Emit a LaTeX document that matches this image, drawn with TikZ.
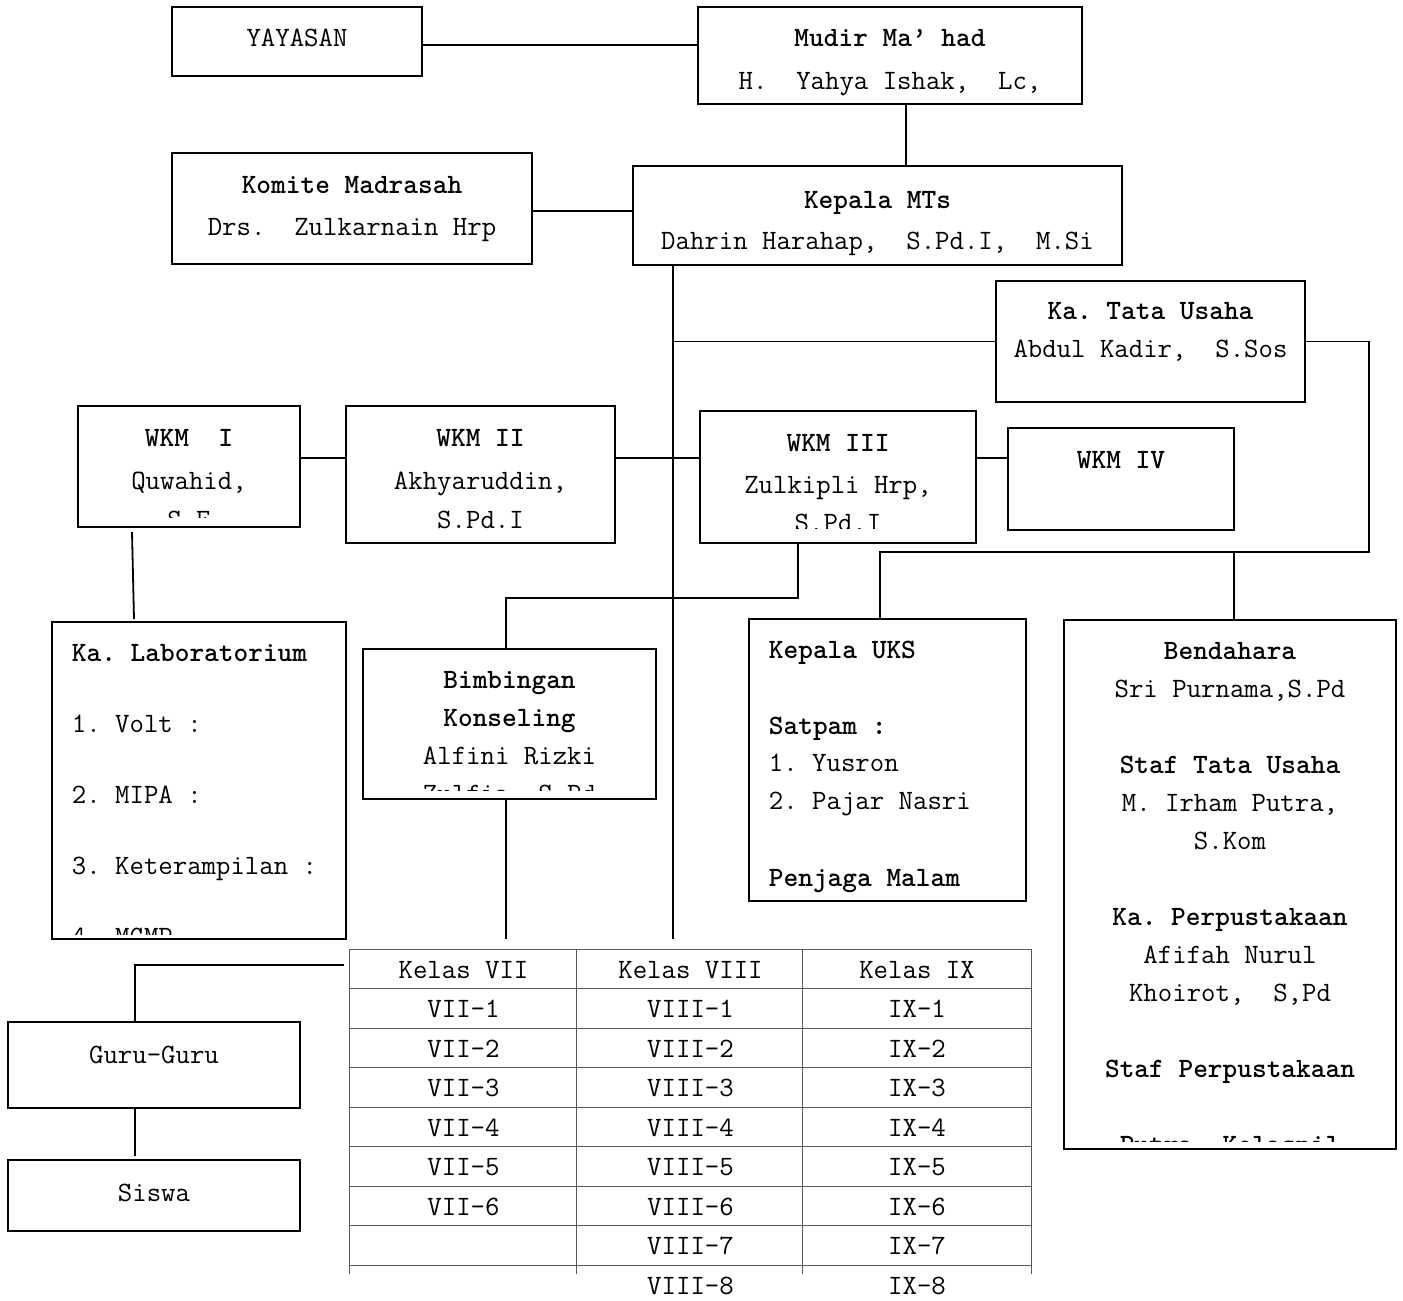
\documentclass[tikz,border=0pt]{standalone}
\usetikzlibrary{positioning}
\tikzset{
  every picture/.append style={line width=0.9pt},
}
\newcommand{\hd}[1]{\textbf{#1}}

\begin{document}
\begin{tikzpicture}[
  x=0.5pt, y=-0.5pt,
  font=\ttfamily\fontsize{14}{19}\selectfont\frenchspacing,
  box/.style={draw, line width=1pt, inner sep=0pt},
  txt/.style={inner sep=0pt, align=center},
  txtl/.style={inner sep=0pt, align=left},
  conn/.style={line width=0.9pt},
  tabline/.style={draw=black!65, line width=0.6pt},
  cell/.style={inner sep=0pt, minimum width=113.5pt, minimum height=19.75pt}
]
\useasboundingbox (0,0) rectangle (1403,1301);

% --- boxes ---
\node[box, minimum width=125pt, minimum height=34.5pt] (yayasan) at (297,41.5) {};
\node[box, minimum width=192pt, minimum height=48.5pt] (mudir) at (890,55.5) {};
\node[box, minimum width=180pt, minimum height=55.5pt] (komite) at (352,208.5) {};
\node[box, minimum width=244.5pt, minimum height=49.5pt] (kepala) at (877.5,215.5) {};
\node[box, minimum width=154.5pt, minimum height=60.5pt] (tu) at (1150.5,341.5) {};
\node[box, minimum width=111pt, minimum height=60.5pt] (wkm1) at (189,466.5) {};
\node[box, minimum width=134.5pt, minimum height=68.5pt] (wkm2) at (480.5,474.5) {};
\node[box, minimum width=138pt, minimum height=66pt] (wkm3) at (838,477) {};
\node[box, minimum width=113pt, minimum height=51pt] (wkm4) at (1121,479) {};
\node[box, minimum width=147pt, minimum height=158.5pt] (lab) at (199,780.5) {};
\node[box, minimum width=146.5pt, minimum height=75pt] (bk) at (509.5,724) {};
\node[box, minimum width=138.5pt, minimum height=141pt] (uks) at (887.5,760) {};
\node[box, minimum width=166pt, minimum height=264.5pt] (bend) at (1230,884.5) {};
\node[box, minimum width=146pt, minimum height=43pt] (guru) at (154,1065) {};
\node[box, minimum width=146pt, minimum height=35.5pt] (siswa) at (154,1195.5) {};

% --- texts ---
\node[txt, below=11.25pt of yayasan.north] (yayasan-t) {YAYASAN};
\node[txt, below=11.25pt of mudir.north] (mudir-t) {\hd{Mudir Ma’ had}\\[2.5pt] H.~ Yahya Ishak,~ Lc,};
\node[txt, below=11.75pt of komite.north] (komite-t) {\hd{Komite Madrasah}\\[2pt] Drs.~ Zulkarnain Hrp};
\node[txt, below=12.75pt of kepala.north] (kepala-t) {\hd{Kepala MTs}\\[1.5pt] Dahrin Harahap,~ S.Pd.I,~ M.Si};
\node[txt, below=10.75pt of tu.north] (tu-t) {\hd{Ka. Tata Usaha}\\ Abdul Kadir,~ S.Sos};
\begin{scope}
  \clip (wkm1.north west) rectangle ([yshift=5.5pt]wkm1.south east);
  \node[txt, below=11.75pt of wkm1.north] (wkm1-t) {\hd{WKM~ I}\\[2.5pt] Quwahid,\\[0.5pt] S.E};
\end{scope}
\node[txt, below=11.75pt of wkm2.north] (wkm2-t) {\hd{WKM II}\\[2.5pt] Akhyaruddin,\\[0.5pt] S.Pd.I};
\begin{scope}
  \clip (wkm3.north west) rectangle ([yshift=8pt]wkm3.south east);
  \node[txt, below=11.75pt of wkm3.north] (wkm3-t) {\hd{WKM III}\\[2pt] Zulkipli Hrp,\\ S.Pd.I};
\end{scope}
\node[txt, below=11.75pt of wkm4.north] (wkm4-t) {\hd{WKM IV}};
\begin{scope}
  \clip (lab.north west) rectangle ([yshift=3pt]lab.south east);
  \node[txtl, below right=11.25pt and 10pt of lab.north west] (lab-t) {\bfseries
    Ka. Laboratorium\\[16.5pt] 1. Volt :\\[16.5pt] 2. MIPA :\\[16.5pt]
    3. Keterampilan :\\[16.5pt] 4. MGMP};
\end{scope}
\begin{scope}
  \clip (bk.north west) rectangle ([yshift=5pt]bk.south east);
  \node[txt, below=11.25pt of bk.north] (bk-t) {\hd{Bimbingan}\\ \hd{Konseling}\\ Alfini Rizki\\ Zulfia, S.Pd};
\end{scope}
\node[txtl, below right=11.25pt and 10pt of uks.north west] (uks-t) {\hd{Kepala UKS}\\[19pt]
  \hd{Satpam :}\\[-0.5pt] 1. Yusron\\ 2. Pajar Nasri\\[19.5pt] \hd{Penjaga Malam}};
\begin{scope}
  \clip (bend.north west) rectangle ([yshift=4.5pt]bend.south east);
  \node[txt, below=11.25pt of bend.north] (bend-t) {\hd{Bendahara}\\ Sri Purnama,S.Pd\\[19pt]
    \hd{Staf Tata Usaha}\\ M. Irham Putra,\\ S.Kom\\[19pt]
    \hd{Ka. Perpustakaan}\\ Afifah Nurul\\ Khoirot,~ S,Pd\\[19pt]
    \hd{Staf Perpustakaan}\\[19pt] \hd{Putra~ Kelasnil}};
\end{scope}
\node[txt, below=12.25pt of guru.north] (guru-t) {Guru-Guru};
\node[txt, below=12.25pt of siswa.north] (siswa-t) {Siswa};

% --- table of classes ---
\node[cell] (k7h) at (463.5,969.75) {Kelas VII};
\node[cell] (k8h) at (690.5,969.75) {Kelas VIII};
\node[cell] (k9h) at (917,969.75) {Kelas IX};
\foreach \r in {1,...,6}
  \node[cell] (k7-\r) at (463.5,969.75+39.5*\r) {VII-\r};
\foreach \r in {1,...,8} {
  \node[cell] (k8-\r) at (690.5,969.75+39.5*\r) {VIII-\r};
  \node[cell] (k9-\r) at (917,969.75+39.5*\r) {IX-\r};
}
\draw[tabline] (k7h.north west) -- (k9h.north east);
\foreach \r in {1,...,8}
  \draw[tabline] (k7h.west |- k8-\r.north) -- (k9h.east |- k8-\r.north);
\foreach \c in {k7h,k8h,k9h}
  \draw[tabline] (\c.north west) -- ++(0,325);
\draw[tabline] (k9h.north east) -- ++(0,325);

% --- connectors ---
\draw[conn] ([yshift=-1.75pt]yayasan.east) -- ([yshift=-1.75pt]yayasan.east -| mudir.west);
\draw[conn] ([xshift=8pt]mudir.south) -- ([xshift=8pt]mudir.south |- kepala.north);
\draw[conn] ([yshift=-1.25pt]komite.east) -- ([yshift=-1.25pt]komite.east -| kepala.west);
\coordinate (spine) at ([xshift=20.5pt]kepala.south west);
\draw[conn] (spine) -- ++(0,673);
\draw[conn] (spine |- tu.west) -- (tu.west);
\draw[conn] (tu.east) -- ++(63,0) |- ([xshift=-3.75pt,yshift=33pt]uks.north) -- ([xshift=-3.75pt]uks.north);
\draw[conn] ([xshift=2pt]bend.north) -- ++(0,-67);
\coordinate (row) at ([yshift=4.25pt]wkm1.east);
\draw[conn] (row) -- (row -| wkm2.west);
\draw[conn] (row -| wkm2.east) -- (row -| wkm3.west);
\draw[conn] (row -| wkm3.east) -- (row -| wkm4.west);
\draw[conn] ([xshift=27.5pt,yshift=-2pt]wkm1.south west) -- ([xshift=41.5pt,yshift=1pt]lab.north west);
\draw[conn] ([xshift=-20pt]wkm3.south) |- ([xshift=-1.75pt,yshift=25pt]bk.north) -- ([xshift=-1.75pt]bk.north);
\draw[conn] ([xshift=-1.75pt]bk.south) -- ++(0,139);
\draw[conn] ([xshift=-2.5pt,yshift=2.5pt]k7h.west) -| ([xshift=-9.5pt]guru.north);
\draw[conn] ([xshift=-9.5pt]guru.south) -- ++(0,47);

\end{tikzpicture}
\end{document}
